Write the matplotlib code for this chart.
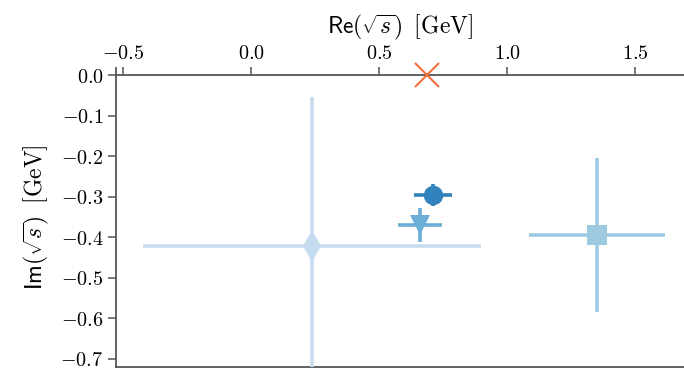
import matplotlib
matplotlib.use("Agg")
import matplotlib.pyplot as plt
from matplotlib.ticker import FuncFormatter

plt.rcParams['mathtext.fontset'] = 'cm'

# pole positions: Re, Im, errors (GeV)
re_vals = [0.711, 0.660, 1.352, 0.238]
im_vals = [-0.296, -0.370, -0.395, -0.422]
re_errs = [0.074, 0.086, 0.266, 0.660]
im_errs = [0.028, 0.042, 0.190, 0.368]
markers = ['o', 'v', 's', 'd']
colors = ['#3182bd', '#6baed6', '#9ecae1', '#c6dbef']
sizes = [14, 14, 14, 16]

# threshold / reference point on the real axis
ref_re = [0.6875]
ref_im = [0.0]

xticks = [-0.5, 0.0, 0.5, 1.0, 1.5]
yticks = [0.0, -0.1, -0.2, -0.3, -0.4, -0.5, -0.6, -0.7]


def main():
    fig = plt.figure(figsize=(6.84, 3.72), dpi=100)
    ax = fig.add_axes([0.1696, 0.0134, 0.8304, 0.8038])

    for i in reversed(range(len(re_vals))):
        ax.errorbar(re_vals[i], im_vals[i], xerr=re_errs[i], yerr=im_errs[i],
                    fmt=markers[i], color=colors[i], ms=sizes[i], elinewidth=2.6,
                    capsize=0, mew=0, zorder=2 + (len(re_vals) - i))

    ax.plot(ref_re, ref_im, 'x', color='#f0703c', ms=17, mew=1.5, zorder=10, clip_on=False)

    ax.set_xlim(-0.527, 1.691)
    ax.set_ylim(-0.721, 0.0173)

    spine_col = '#555555'
    ax.spines['top'].set_position(('data', 0))
    ax.spines['right'].set_visible(False)
    for s in ['top', 'left', 'bottom']:
        ax.spines[s].set_color(spine_col)
        ax.spines[s].set_linewidth(1.3)

    ax.xaxis.tick_top()
    ax.xaxis.set_label_position('top')
    ax.set_xticks(xticks)
    ax.set_yticks(yticks)
    fmt = FuncFormatter(lambda v, p: r"$%.1f$" % v if abs(v) > 1e-9 else r"$0.0$")
    ax.xaxis.set_major_formatter(fmt)
    ax.yaxis.set_major_formatter(fmt)
    ax.tick_params(axis='both', direction='out', length=6, width=1.1,
                   color=spine_col, labelsize=14.5, pad=3)

    ax.set_xlabel(r"$\mathsf{Re}(\sqrt{s})\;\;[\mathrm{GeV}]$", fontsize=17, labelpad=7)
    ax.set_ylabel(r"$\mathsf{Im}(\sqrt{s})\;\;[\mathrm{GeV}]$", fontsize=17, labelpad=7)

    plt.savefig('out.png', dpi=100)
    plt.close()


if __name__ == '__main__':
    main()
